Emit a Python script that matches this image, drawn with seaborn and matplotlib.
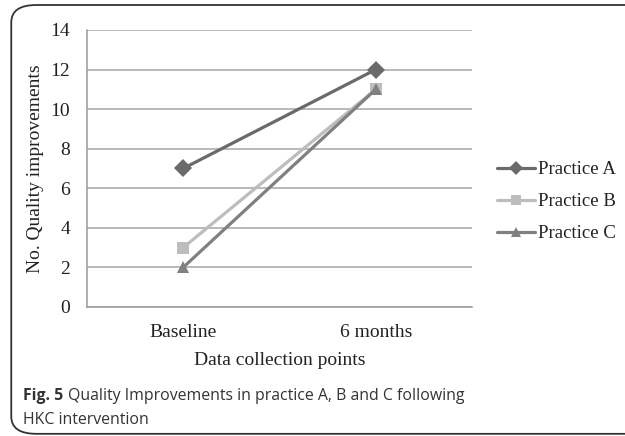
import pandas as pd
import seaborn as sns
import matplotlib.pyplot as plt
from matplotlib.patches import FancyBboxPatch

# Data
time_points = ["Baseline", "6 months"]
practice_a = [7, 12]
practice_b = [3, 11]
practice_c = [2, 11]
practices = ["Practice A", "Practice B", "Practice C"]

df = pd.DataFrame({
    "time": time_points * 3,
    "value": practice_a + practice_b + practice_c,
    "practice": [p for p in practices for _ in time_points],
})

# Style
sns.set_style("white")
plt.rcParams["font.family"] = ["Liberation Serif", "DejaVu Serif"]
colors = {"Practice A": "#6a6a6a", "Practice B": "#bdbdbd", "Practice C": "#808080"}
markers = {"Practice A": "D", "Practice B": "s", "Practice C": "^"}
fs = 14

fig = plt.figure(figsize=(6.25, 4.36), dpi=100)
ax = fig.add_axes([0.139, 0.2959, 0.6162, 0.6353])

sns.lineplot(data=df, x="time", y="value", hue="practice", style="practice",
             palette=colors, markers=markers, dashes=False, linewidth=2.3,
             markersize=9, markeredgewidth=0, ax=ax)

ax.set_xlim(-0.5, 1.5)
ax.set_ylim(0, 14)
ax.set_yticks(range(0, 15, 2))
ax.yaxis.grid(True, color="#a6a6a6", linewidth=1.1)
ax.xaxis.grid(False)
for s in ["top", "right"]:
    ax.spines[s].set_visible(False)
for s in ["left", "bottom"]:
    ax.spines[s].set_color("#9a9a9a")
    ax.spines[s].set_linewidth(1.1)
ax.set_xticks([0, 1])
ax.set_xticks([-0.5, 0.5, 1.5], minor=True)
ax.tick_params(axis="x", which="major", length=0, labelsize=fs, pad=12)
ax.tick_params(axis="x", which="minor", length=4, color="#9a9a9a", width=1.1)
ax.tick_params(axis="y", length=4, color="#9a9a9a", width=1.1, labelsize=fs, pad=8)
ax.set_xlabel("Data collection points", fontsize=fs, labelpad=8, color="#222222")
ax.set_ylabel("No. Quality improvements", fontsize=fs, labelpad=5, color="#222222")
for lab in ax.get_xticklabels() + ax.get_yticklabels():
    lab.set_color("#222222")

leg = ax.legend(loc="center left", bbox_to_anchor=(1.066, 0.38), frameon=False,
                fontsize=fs - 0.5, handlelength=2.0, handletextpad=0.15, labelspacing=0.8,
                borderpad=0, borderaxespad=0, markerscale=0.75)
for t in leg.get_texts():
    t.set_color("#222222")

# Rounded frame
frame = FancyBboxPatch((0.018, 0.005), 1.1, 0.9835, boxstyle="round,pad=0,rounding_size=0.04",
                       transform=fig.transFigure, fill=False, edgecolor="#333333",
                       linewidth=1.3, clip_on=False)
fig.patches.append(frame)

# Caption
cap_font = ["Open Sans", "DejaVu Sans"]
cfs = 11.4
t1 = fig.text(0.037, 0.083, "Fig. 5", fontsize=cfs, fontweight="bold", color="#333333", family=cap_font)
fig.canvas.draw()
bb = t1.get_window_extent().transformed(fig.transFigure.inverted())
fig.text(bb.x1 + 0.008, 0.083, "Quality Improvements in practice A, B and C following",
         fontsize=cfs, color="#333333", family=cap_font)
fig.text(0.037, 0.028, "HKC intervention", fontsize=cfs, color="#333333", family=cap_font)

fig.savefig("out.png", dpi=100)
